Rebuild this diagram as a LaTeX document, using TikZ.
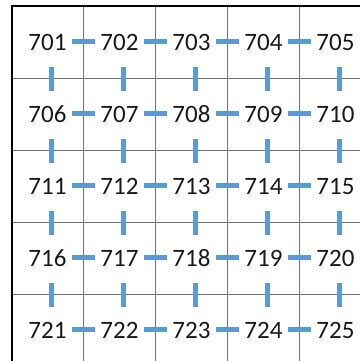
\documentclass[tikz,border=0pt]{standalone}
\usepackage{fontspec}
\setmainfont{Carlito}
\definecolor{linkblue}{HTML}{5B9BD5}
\begin{document}
\begin{tikzpicture}[x=1pt,y=-1pt,
  num/.style={font=\fontsize{25}{25}\selectfont, inner sep=0pt, text=black!90},
  gridline/.style={draw=black!55, line width=1pt},
  border/.style={draw=black, line width=2pt},
  hlink/.style={draw=linkblue, line width=5pt, shorten <=24.5pt, shorten >=24.5pt},
  vlink/.style={draw=linkblue, line width=5pt, shorten <=24pt, shorten >=24pt}]
\useasboundingbox (0,0) rectangle (360,361);
\clip (0,0) rectangle (360,361);
% inner grid lines
\foreach \k in {1,...,4} {
  \draw[gridline] (11.5+72*\k,6.5) -- (11.5+72*\k,361);
  \draw[gridline] (11.5,6.5+72*\k) -- (360,6.5+72*\k);
}
% outer border (top and left)
\draw[border] (11.5,361) -- (11.5,6.5) -- (360,6.5);
% numbers
\foreach \j in {0,...,4} {
  \foreach \i in {0,...,4} {
    \pgfmathtruncatemacro\n{701+5*\j+\i}
    \node[num] (n\n) at (47.5+72*\i, 42.5+72*\j) {\n};
  }
}
% horizontal links
\foreach \j in {0,...,4} {
  \foreach \i in {0,...,3} {
    \pgfmathtruncatemacro\a{701+5*\j+\i}
    \pgfmathtruncatemacro\b{\a+1}
    \draw[hlink] ([yshift=1pt]n\a.center) -- ([yshift=1pt]n\b.center);
  }
}
% vertical links
\foreach \j in {0,...,3} {
  \foreach \i in {0,...,4} {
    \pgfmathtruncatemacro\a{701+5*\j+\i}
    \pgfmathtruncatemacro\b{\a+5}
    \draw[vlink] ([xshift=4pt]n\a.center) -- ([xshift=4pt]n\b.center);
  }
}
\end{tikzpicture}
\end{document}
